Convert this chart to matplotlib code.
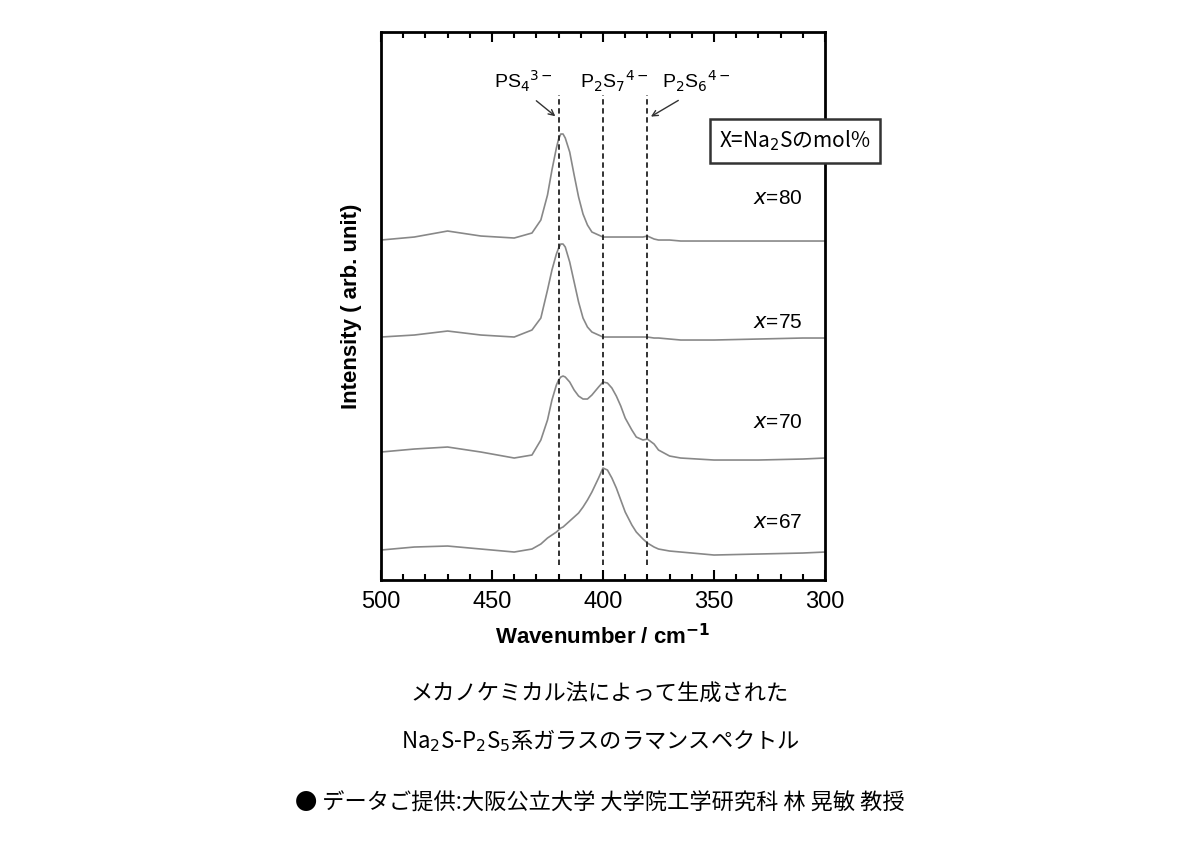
import matplotlib
matplotlib.use("Agg")
import matplotlib.pyplot as plt
from matplotlib.ticker import MultipleLocator

plt.rcParams['font.family'] = ['Liberation Sans', 'Noto Sans CJK JP', 'DejaVu Sans']

wn = [500, 485, 470, 455, 440, 432, 428, 425, 423, 421, 420, 419, 418, 417, 415, 413, 411, 409, 407, 405, 402,
      400, 398, 396, 394, 392, 390, 387, 385, 382, 380, 377, 375, 370, 365, 350, 330, 310, 300]
# intensities (arbitrary units, offset stacked)
i80 = [340, 343, 349, 344, 342, 347, 360, 385, 410, 432, 441, 446, 446, 442, 428, 405, 383, 366, 355, 348, 345,
       343, 343, 343, 343, 343, 343, 343, 343, 343, 344, 341, 340, 340, 339, 339, 339, 339, 339]
i75 = [243, 245, 249, 245, 243, 250, 262, 290, 310, 326, 332, 336, 336, 333, 318, 298, 278, 262, 253, 248, 245,
       243, 243, 243, 243, 243, 243, 243, 243, 243, 243, 242, 242, 241, 240, 240, 241, 242, 242]
i70 = [128, 131, 133, 128, 122, 125, 140, 160, 180, 195, 200, 203, 204, 203, 198, 190, 184, 181, 181, 185, 193,
       198, 197, 192, 184, 174, 162, 150, 143, 140, 141, 136, 130, 124, 122, 120, 120, 121, 122]
i67 = [30, 33, 34, 31, 28, 31, 36, 42, 45, 48, 50, 52, 53, 55, 59, 63, 67, 73, 80, 88, 102,
       112, 110, 102, 92, 80, 68, 55, 48, 41, 37, 33, 31, 29, 28, 25, 26, 27, 28]
series = [("x=80", i80, 382), ("x=75", i75, 258), ("x=70", i70, 158), ("x=67", i67, 58)]
marks = [420, 400, 380]
mark_labels = [r"PS$_4$$^{3-}$", r"P$_2$S$_7$$^{4-}$", r"P$_2$S$_6$$^{4-}$"]
label_pos = [436, 395, 358]

fig = plt.figure(figsize=(12, 8.47), dpi=100)
ax = fig.add_axes([0.3175, 0.3152, 0.37, 0.647])
for name, vals, ly in series:
    ax.plot(wn, vals, color='#888888', lw=1.2)
    ax.text(310, ly, r"$\it{x}$=" + name[2:], fontsize=15, ha='right', va='center')
for m in marks:
    ax.plot([m, m], [15, 485], ls=(0, (3, 2)), color='#222222', lw=1.3)
ax.set_xlim(500, 300)
ax.set_ylim(0, 548)
ax.set_yticks([])
ax.xaxis.set_major_locator(MultipleLocator(50))
ax.xaxis.set_minor_locator(MultipleLocator(10))
ax.tick_params(axis='x', which='both', direction='in', top=True, labelsize=17, pad=8)
ax.tick_params(axis='x', which='major', length=7, width=1.5)
ax.tick_params(axis='x', which='minor', length=4, width=1.5)
for s in ax.spines.values():
    s.set_linewidth(2)
ax.set_xlabel("Wavenumber / cm$^{\\mathbf{-1}}$", fontsize=16, fontweight='bold', labelpad=8)
ax.set_ylabel("Intensity ( arb. unit)", fontsize=16, fontweight='bold', labelpad=14)

for lab, p in zip(mark_labels, label_pos):
    ax.text(p, 492, lab, fontsize=14, ha='center')
ax.annotate("", xy=(420.5, 462), xytext=(431, 481),
            arrowprops=dict(arrowstyle='->', color='#333333', lw=1))
ax.annotate("", xy=(379.5, 462), xytext=(365, 481),
            arrowprops=dict(arrowstyle='->', color='#333333', lw=1))

fig.text(0.6625, 0.8335, "X=Na$_2$Sのmol%", fontsize=15, ha='center', va='center',
         family=['Noto Sans CJK JP', 'DejaVu Sans'],
         bbox=dict(boxstyle='square,pad=0.45', fc='white', ec='#333333', lw=1.8))

cap = ['Noto Sans CJK JP', 'DejaVu Sans']
fig.text(0.5, 0.181, "メカノケミカル法によって生成された", fontsize=16, ha='center', va='center', family=cap)
fig.text(0.5, 0.126, "Na$_2$S-P$_2$S$_5$系ガラスのラマンスペクトル", fontsize=16, ha='center', va='center', family=cap)
fig.text(0.5, 0.052, "● データご提供:大阪公立大学 大学院工学研究科 林 晃敏 教授", fontsize=16, ha='center', va='center', family=cap)

fig.savefig("out.png", dpi=100)
